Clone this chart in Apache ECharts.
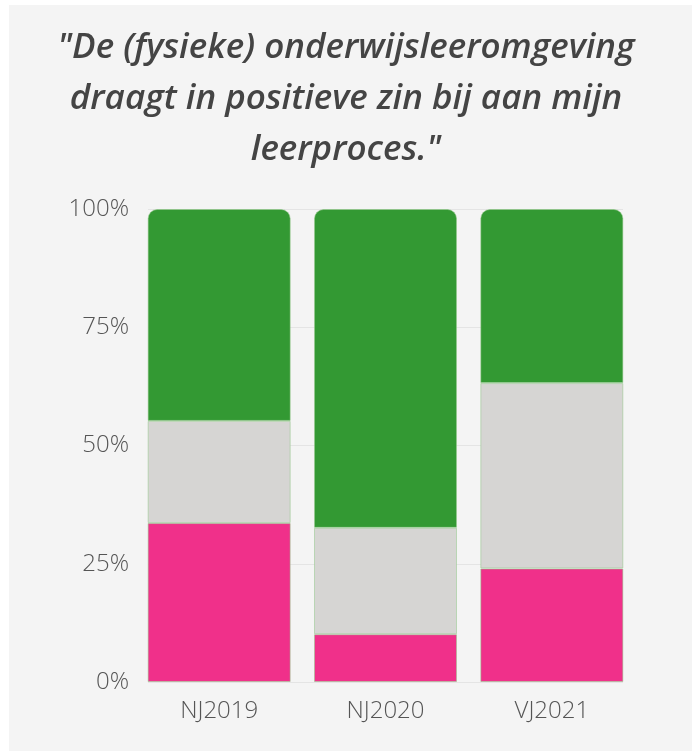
<!DOCTYPE html>
<html><head><meta charset="utf-8">
<script src="https://cdn.jsdelivr.net/npm/echarts@6/dist/echarts.min.js"></script>
<style>html,body{margin:0;padding:0;background:#fff;}#c{width:692px;height:751px;}</style>
</head><body><div id="c"></div>
<script>
const categories = ['NJ2019', 'NJ2020', 'VJ2021'];
const pinkValues = [33.6, 10.1, 24.0];
const grayValues = [21.6, 22.5, 39.2];
const greenValues = [44.8, 67.4, 36.8];
const yTicks = [0, 25, 50, 75, 100];
const titleText = '"De (fysieke) onderwijsleeromgeving\ndraagt in positieve zin bij aan mijn\nleerproces."';

const chart = echarts.init(document.getElementById('c'));
const border = {borderColor: 'rgba(150,200,140,0.55)', borderWidth: 1};
chart.setOption({
  animation: false,
  graphic: [{type: 'rect', z: -10, silent: true, shape: {x: 9, y: 5, width: 683, height: 746}, style: {fill: '#f4f4f4'}}],
  title: {
    text: titleText, left: 341, top: 18, textAlign: 'center',
    textStyle: {fontFamily: 'Open Sans', fontStyle: 'italic', fontWeight: 600, fontSize: 35, lineHeight: 51, color: '#444'}
  },
  grid: [
    {left: 136, right: 57, top: 209, bottom: 69},
    {left: 148, right: 69, top: 209, bottom: 69}
  ],
  xAxis: [
    {type: 'category', gridIndex: 0, data: categories, axisLine: {show: false}, axisTick: {show: false},
     axisLabel: {color: '#555', fontSize: 24, fontWeight: 300, fontFamily: 'Open Sans', margin: 17}},
    {type: 'value', gridIndex: 1, show: false, min: 0, max: 1}
  ],
  yAxis: [
    {type: 'value', gridIndex: 0, min: 0, max: 100, interval: 25, splitLine: {show: false},
     axisLine: {show: false}, axisTick: {show: false},
     axisLabel: {formatter: v => yTicks.includes(v) ? v + '%' : '', color: '#555', fontSize: 24, fontWeight: 300, fontFamily: 'Open Sans', margin: 7}},
    {type: 'value', gridIndex: 1, min: 0, max: 100, interval: 25, axisLabel: {show: false},
     axisLine: {show: false}, axisTick: {show: false}, splitLine: {show: true, lineStyle: {color: '#e4e4e4', width: 1}}}
  ],
  series: [
    {type: 'bar', stack: 's', data: pinkValues, barWidth: 143, itemStyle: Object.assign({color: '#f0308a'}, border)},
    {type: 'bar', stack: 's', data: grayValues, barWidth: 143, itemStyle: Object.assign({color: '#d6d5d3'}, border)},
    {type: 'bar', stack: 's', data: greenValues, barWidth: 143, itemStyle: Object.assign({color: '#339933', borderRadius: [9, 9, 0, 0]}, border)}
  ]
});
</script></body></html>
